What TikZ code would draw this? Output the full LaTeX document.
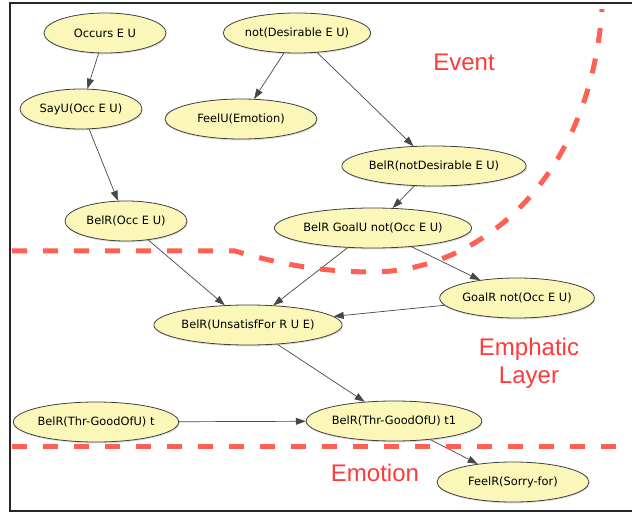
\documentclass[tikz,border=0pt]{standalone}
\usepackage{fontspec}
\setmainfont{DejaVu Sans}
\newfontfamily\zonefont{Liberation Sans}
\usetikzlibrary{shapes.geometric,arrows.meta,shadows}

\definecolor{nodefill}{RGB}{250,247,185}
\definecolor{zonered}{RGB}{255,96,84}
\definecolor{labelred}{RGB}{255,58,58}

\begin{document}
\begin{tikzpicture}[x=1pt,y=-1pt,
  state/.style={ellipse, draw=black!75, fill=nodefill, line width=0.8pt,
    minimum height=40pt, inner sep=0pt, font=\fontsize{11.4}{13}\selectfont,
    drop shadow={opacity=0.25, shadow xshift=0.6pt, shadow yshift=-1.4pt}},
  small/.style={state, minimum width=122pt},
  wide/.style={state, minimum width=152pt},
  link/.style={draw=black!72, line width=0.7pt, -{Triangle[length=10pt,width=7pt]}},
  zone/.style={draw=zonered, line width=5pt, dash pattern=on 15pt off 16pt},
  zonelabel/.style={text=labelred, font=\zonefont\fontsize{24}{28}\selectfont}
]
\useasboundingbox (0,0) rectangle (632,513);

% outer frame (open on the right)
\draw[line width=1.4pt, black!85] (632,3) -- (10,3) -- (10,511) -- (632,511);

% nodes
\node[small] (occ)     at (105,33)  {Occurs E U};
\node[small] (notdes)  at (297,33)  {not(Desirable E U)};
\node[small] (sayu)    at (81,109)  {SayU(Occ E U)};
\node[wide]  (feelu)   at (241,119) {FeelU(Emotion)};
\node[wide]  (belnd)   at (434,166) {BelR(notDesirable E U)};
\node[small] (belocc)  at (126,221) {BelR(Occ E U)};
\node[wide]  (belgoal) at (373,228) {BelR GoalU not(Occ E U)};
\node[wide]  (goalr)   at (517,298) {GoalR not(Occ E U)};
\node[wide]  (unsat)   at (248,325) {BelR(UnsatisfFor R U E)};
\node[wide]  (thrt)    at (96,422)  {BelR(Thr-GoodOfU) t};
\node[wide]  (thrt1)   at (394,421) {BelR(Thr-GoodOfU) t1};
\node[wide]  (sorry)   at (513,482) {FeelR(Sorry-for)};

% connectors
\draw[link] (occ) -- (sayu);
\draw[link] (notdes) -- (feelu);
\draw[link] (notdes) -- (belnd);
\draw[link] (sayu) -- (belocc);
\draw[link] (belnd) -- (belgoal);
\draw[link] (belocc) -- (unsat);
\draw[link] (belgoal) -- (unsat);
\draw[link] (belgoal) -- (goalr);
\draw[link] (goalr) -- (unsat);
\draw[link] (unsat) -- (thrt1);
\draw[link] (thrt) -- (thrt1);
\draw[link] (thrt1) -- (sorry);

% layer boundaries
\draw[zone] (12,251) -- (235,251)
  .. controls (280,264) and (320,272) .. (375,272)
  .. controls (480,270) and (590,180) .. (602,9);
\draw[zone] (12,446) -- (632,446);

% layer names
\node[zonelabel] (ev)  at (464,62)  {Event};
\node[zonelabel] (em1) at (529,349) {Emphatic};
\node[zonelabel] (em2) at (529,378) {Layer};
\node[zonelabel] (emo) at (375,473) {Emotion};
\end{tikzpicture}
\end{document}
